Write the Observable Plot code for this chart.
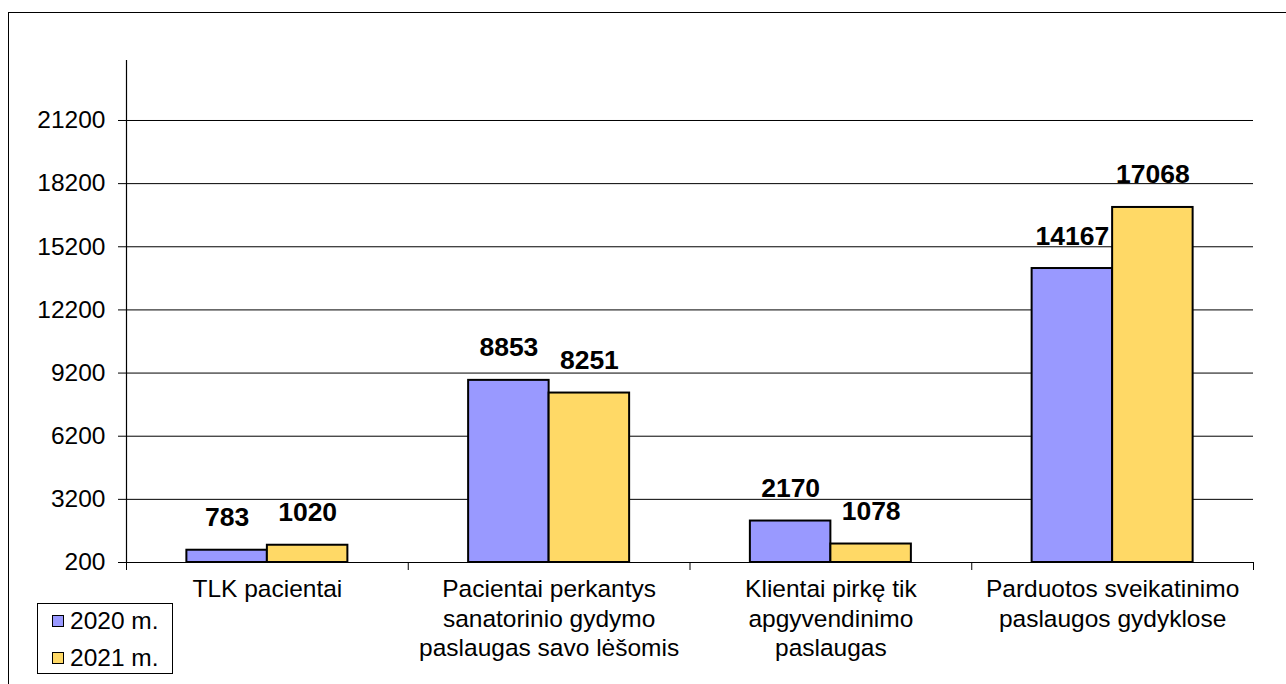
<!DOCTYPE html>
<html>
<head>
<meta charset="utf-8">
<script src="https://cdn.jsdelivr.net/npm/d3@7"></script>
<script src="https://cdn.jsdelivr.net/npm/@observablehq/plot@0.6"></script>
<style>
  html, body { margin: 0; padding: 0; background: #fff; overflow: hidden; }
  #wrap { position: relative; width: 1286px; height: 684px; font-family: "Liberation Sans", Arial, sans-serif; }
  #border { position: absolute; left: 8px; top: 12px; width: 1300px; height: 700px; border: 1.5px solid #000; box-sizing: border-box; pointer-events: none; }
  #legend { position: absolute; left: 37px; top: 603px; width: 136px; height: 71px; border: 1px solid #000; box-sizing: border-box; background: #fff; font-size: 24.5px; }
  .item { position: absolute; left: 14px; display: flex; align-items: center; height: 26px; }
  .sw { width: 10px; height: 10px; border: 1px solid #000; margin-right: 6px; }
</style>
</head>
<body>
<div id="wrap">
  <div id="chart"></div>
  <div id="border"></div>
  <div id="legend"></div>
</div>
<script>
const categories = [
  "TLK pacientai",
  "Pacientai perkantys\nsanatorinio gydymo\npaslaugas savo lėšomis",
  "Klientai pirkę tik\napgyvendinimo\npaslaugas",
  "Parduotos sveikatinimo\npaslaugos gydyklose"
];
const years = ["2020 m.", "2021 m."];
const values2020 = [783, 8853, 2170, 14167];
const values2021 = [1020, 8251, 1078, 17068];
const yTicks = [200, 3200, 6200, 9200, 12200, 15200, 18200, 21200];
const colors = ["#9999ff", "#ffd966"];

const yMin = 200, yMax = 24050;
const series = [values2020, values2021];
const rows = [];
categories.forEach((c, i) => {
  years.forEach((yr, j) => {
    rows.push({i, year: yr, value: series[j][i], x1: i + (1.5 + 2 * j) / 7, x2: i + (3.5 + 2 * j) / 7});
  });
});

const plot = Plot.plot({
  width: 1286,
  height: 684,
  marginLeft: 126,
  marginRight: 33,
  marginTop: 60,
  marginBottom: 122,
  style: {fontFamily: "Liberation Sans, Arial, sans-serif", color: "#000", background: "transparent"},
  x: {domain: [0, categories.length], axis: null},
  y: {domain: [yMin, yMax], axis: null},
  color: {domain: years, range: colors},
  marks: [
    Plot.ruleY(yTicks.slice(1), {stroke: "#000", strokeWidth: 1}),
    Plot.axisY({ticks: yTicks, tickSize: 8, tickPadding: 13, tickFormat: d => String(d), fontSize: 24.5, label: null, stroke: "#000"}),
    Plot.axisX({ticks: d3.range(categories.length + 1), tickSize: 8, tickFormat: () => "", label: null, stroke: "#000"}),
    Plot.rectY(rows, {x1: "x1", x2: "x2", y1: () => yMin, y2: "value", fill: "year", stroke: "#000", strokeWidth: 2}),
    Plot.ruleY([yMin], {stroke: "#000", strokeWidth: 1.2}),
    Plot.ruleX([0], {stroke: "#000", strokeWidth: 1.2}),
    Plot.text(rows, {x: d => (d.x1 + d.x2) / 2, y: "value", text: d => String(d.value), fontSize: 26.5, fontWeight: "bold", textAnchor: "middle", lineAnchor: "bottom", dy: -24, fill: "#000"}),
    Plot.text(categories, {x: (d, i) => i + 0.5, y: () => yMin, text: d => d, fontSize: 24.5, lineAnchor: "top", lineHeight: 1.2, dy: 14, textAnchor: "middle", fill: "#000"})
  ]
});
document.getElementById("chart").appendChild(plot);

const legend = document.getElementById("legend");
years.forEach((yr, j) => {
  const item = document.createElement("div");
  item.className = "item";
  item.style.top = (4 + j * 37) + "px";
  const sw = document.createElement("div");
  sw.className = "sw";
  sw.style.background = colors[j];
  const t = document.createElement("span");
  t.textContent = yr;
  item.appendChild(sw);
  item.appendChild(t);
  legend.appendChild(item);
});
</script>
</body>
</html>
